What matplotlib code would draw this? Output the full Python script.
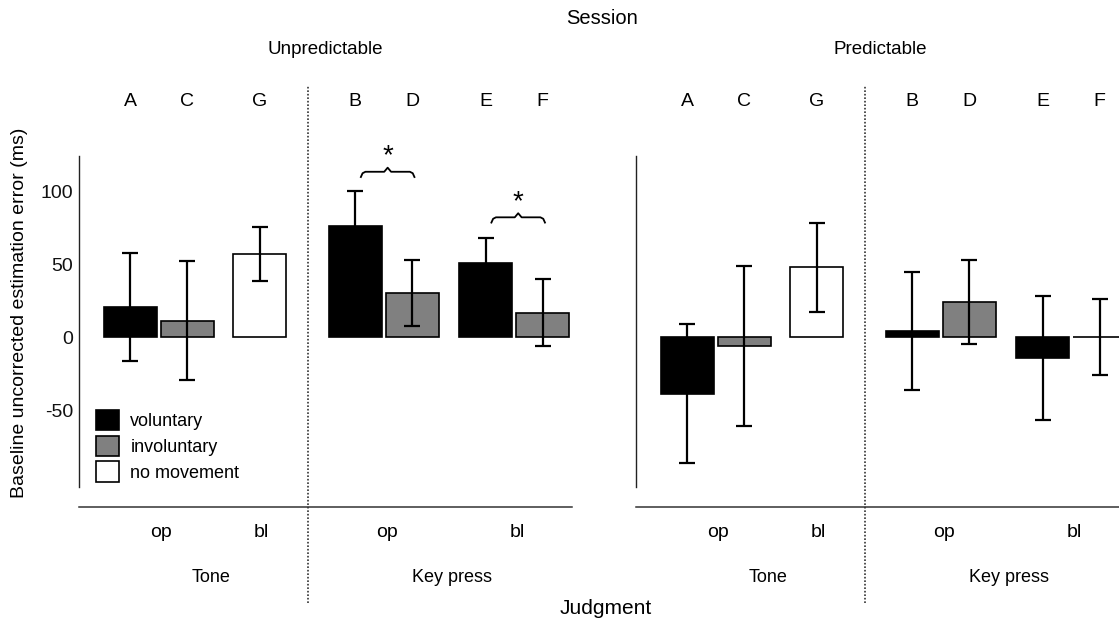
import matplotlib
matplotlib.use('Agg')
from matplotlib import pyplot
from matplotlib.patches import Patch
import numpy

pyplot.rcParams['font.family'] = ['Liberation Sans', 'DejaVu Sans']
pyplot.rcParams['axes.unicode_minus'] = False

# conditions, in drawing order within each session panel
letters = ['A', 'C', 'G', 'B', 'D', 'E', 'F']
movement = ['voluntary', 'involuntary', 'no movement',
            'voluntary', 'involuntary', 'voluntary', 'involuntary']
unpred_mean = [21, 11.5, 57, 76.5, 30.5, 51, 17]
unpred_err = [37, 40.5, 18.5, 24, 22.5, 17, 22.7]
pred_mean = [-38.5, -6, 48, 4.3, 24, -14, 0.3]
pred_err = [47.5, 55, 30.4, 40.5, 28.8, 42.5, 26]
sessions = ['Unpredictable', 'Predictable']
judgments = ['Tone', 'Key press']
cues = ['op', 'bl', 'op', 'bl']
# significant pairs (index into the lists above), unpredictable session only
sig_pairs = [(3, 4, 113.4), (5, 6, 82.2)]

colors = {'voluntary': 'black', 'involuntary': '#808080', 'no movement': 'white'}

xpos = numpy.array([0, 1, 2.28, 3.95, 4.95, 6.24, 7.24])
cue_x = [0.55, 2.3, 4.5, 6.8]
width = 0.93

W, H = 1119, 621
fig = pyplot.figure(figsize=(W / 100, H / 100), dpi=100)

ax_top, ax_bot = 156, 487
axes_h = ax_bot - ax_top
lefts = [79, 636]
axes_w = 493

axs = []
for left in lefts:
    ax = fig.add_axes([left / W, (H - ax_bot) / H, axes_w / W, axes_h / H])
    ax.set_xlim(-0.895, -0.895 + axes_w / 57)
    ax.set_ylim(-102.5, 124.2)
    for s in ['top', 'right', 'bottom']:
        ax.spines[s].set_visible(False)
    ax.spines['left'].set_linewidth(1.0)
    ax.spines['left'].set_color('#222222')
    ax.set_xticks([])
    axs.append(ax)

axs[0].set_yticks([-50, 0, 50, 100])
axs[0].tick_params(axis='y', length=0, pad=4.0, labelsize=14, labelcolor='#111111')
axs[1].set_yticks([])

for ax, means, errs, name in zip(axs, [unpred_mean, pred_mean], [unpred_err, pred_err], sessions):
    ax.bar(xpos, means, width=width, color=[colors[m] for m in movement],
           edgecolor='black', linewidth=1.2, zorder=2)
    ax.errorbar(xpos, means, yerr=errs, fmt='none', ecolor='black',
                elinewidth=1.6, capsize=5.8, capthick=1.6, zorder=3)
    tr = ax.get_xaxis_transform()
    for x, lab in zip(xpos, letters):
        ax.text(x, 1.164, lab, transform=tr, ha='center', va='center', fontsize=14)
    for x, lab in zip(cue_x, cues):
        ax.text(x, -0.136, lab, transform=tr, ha='center', va='center', fontsize=14)
    for k, lab in enumerate(judgments):
        ax.text(numpy.mean(cue_x[2 * k:2 * k + 2]), -0.272, lab, transform=tr,
                ha='center', va='center', fontsize=13)
    # divider between Tone and Key press
    ax.axvline((xpos[2] + xpos[3]) / 2, ymin=-0.35, ymax=1.2145, color='#333333',
               linestyle=(0, (1, 1.1)), linewidth=1.2, clip_on=False)
    # Judgment baseline
    ax.plot([0, 1], [-0.06, -0.06], transform=ax.transAxes, color='#333333',
            linewidth=1.1, clip_on=False)

for i, j, y in sig_pairs:
    ax = axs[0]
    x0, x1 = xpos[i] + 0.1, xpos[j] + 0.04
    xm = (x0 + x1) / 2
    bx = [x0, x0 + 0.03, x0 + 0.08, xm - 0.06, xm, xm + 0.06, x1 - 0.08, x1 - 0.03, x1]
    by = [y - 3.6, y - 1.0, y, y, y + 2.8, y, y, y - 1.0, y - 3.6]
    ax.plot(bx, by, color='black', linewidth=1.3, clip_on=False)
    ax.text(xm, y + 10.5, '*', ha='center', va='center', fontsize=20, clip_on=False)

handles = [Patch(facecolor=colors[m], edgecolor='black', linewidth=1.2)
           for m in ['voluntary', 'involuntary', 'no movement']]
axs[0].legend(handles, ['voluntary', 'involuntary', 'no movement'], frameon=False,
              loc='upper left', bbox_to_anchor=((96 - 79) / axes_w, (ax_bot - 410) / axes_h),
              borderpad=0, borderaxespad=0, handlelength=1.3, handleheight=1.35,
              handletextpad=0.6, labelspacing=0.3, fontsize=13)

fig.text(602 / W, 1 - 18 / H, 'Session', ha='center', va='center', fontsize=14.5)
fig.text(325 / W, 1 - 50 / H, sessions[0], ha='center', va='center', fontsize=13.5)
fig.text(880 / W, 1 - 50 / H, sessions[1], ha='center', va='center', fontsize=13.5)
fig.text(606 / W, 1 - 609 / H, 'Judgment', ha='center', va='center', fontsize=15)
fig.text(20 / W, 1 - 313 / H, 'Baseline uncorrected estimation error (ms)',
         rotation=90, ha='center', va='center', fontsize=14)

fig.savefig('out.png', dpi=100)
